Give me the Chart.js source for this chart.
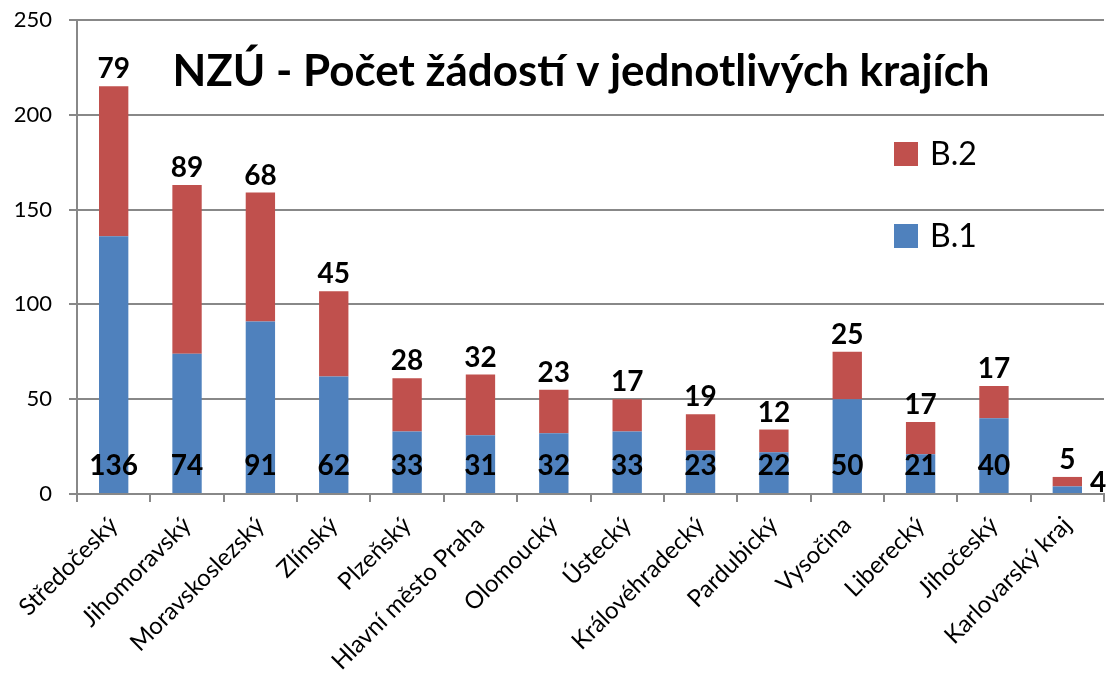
<!DOCTYPE html>
<html>
<head>
<meta charset="utf-8">
<script src="https://cdn.jsdelivr.net/npm/chart.js@4.4.1/dist/chart.umd.min.js"></script>
<style>
  html, body { margin: 0; padding: 0; background: #fff; }
  #wrap { width: 1106px; height: 680px; }
</style>
</head>
<body>
<div id="wrap"><canvas id="chart-kraje" width="1106" height="680"></canvas></div>
<script>
/* Kraje a počty žádostí */
const kraje = ["Středočeský", "Jihomoravský", "Moravskoslezský", "Zlínský", "Plzeňský", "Hlavní město Praha",
    "Olomoucký", "Ústecký", "Královéhradecký", "Pardubický", "Vysočina", "Liberecký", "Jihočeský", "Karlovarský kraj"];
const hodnotyB1 = [136, 74, 91, 62, 33, 31, 32, 33, 23, 22, 50, 21, 40, 4];
const hodnotyB2 = [79, 89, 68, 45, 28, 32, 23, 17, 19, 12, 25, 17, 17, 5];
const osaY = [0, 50, 100, 150, 200, 250];
const nadpis = "NZÚ - Počet žádostí v jednotlivých krajích";

const barvaB1 = "#4F81BD";
const barvaB2 = "#C0504D";
const seda = "#888888";
const font = "Lato";

/* popisky hodnot, nadpis a legenda kreslené přímo do grafu */
const popiskyPlugin = {
    id: "popisky",
    afterDatasetsDraw(chart) {
        const ctx = chart.ctx;
        const base = chart.scales.y.getPixelForValue(0);
        ctx.save();
        ctx.fillStyle = "#000";
        ctx.font = "bold 28px " + font;
        ctx.textAlign = "center";
        ctx.textBaseline = "alphabetic";

        const meta1 = chart.getDatasetMeta(0);
        const meta2 = chart.getDatasetMeta(1);
        meta1.data.forEach((bar, i) => {
            const h = Math.abs(bar.base - bar.y);
            if (h < 20) {
                // malý sloupec - popisek vpravo vedle sloupce
                ctx.textAlign = "left";
                ctx.fillText(hodnotyB1[i], bar.x + bar.width / 2 + 8, base - 2);
                ctx.textAlign = "center";
            } else {
                ctx.fillText(hodnotyB1[i], bar.x, base - 19);
            }
        });
        meta2.data.forEach((bar, i) => {
            ctx.fillText(hodnotyB2[i], bar.x, bar.y - 8);
        });

        // nadpis
        let size = 40;
        ctx.font = "bold " + size + "px " + font;
        const w = ctx.measureText(nadpis).width;
        size = size * 818 / w;
        ctx.font = "bold " + size.toFixed(1) + "px " + font;
        ctx.fillText(nadpis, 581, 86);

        // legenda
        ctx.textAlign = "left";
        ctx.font = "32px " + font;
        ctx.fillStyle = barvaB2;
        ctx.fillRect(894, 142, 24, 24);
        ctx.fillStyle = barvaB1;
        ctx.fillRect(894, 224, 24, 24);
        ctx.fillStyle = "#000";
        ctx.fillText("B.2", 930, 165);
        ctx.fillText("B.1", 930, 247);
        ctx.restore();
    }
};

const dataKraje = {
    labels: kraje,
    datasets: [
        {
            label: "B.1",
            backgroundColor: barvaB1,
            data: hodnotyB1,
        },
        {
            label: "B.2",
            backgroundColor: barvaB2,
            data: hodnotyB2,
        },
    ],
};

document.fonts.load("bold 28px " + font).then(() => document.fonts.load("24px " + font)).finally(() => {
    const ctxKraje = document.getElementById("chart-kraje").getContext("2d");
    const barChartKraje = new Chart(ctxKraje, {
        type: "bar",
        data: dataKraje,
        plugins: [popiskyPlugin],
        options: {
            responsive: false,
            animation: false,
            categoryPercentage: 1,
            barPercentage: 0.4,
            layout: { padding: { top: 20, right: 2, left: 0, bottom: 0 } },
            plugins: {
                legend: { display: false },
                tooltip: { enabled: false },
            },
            scales: {
                x: {
                    stacked: true,
                    grid: { drawOnChartArea: false, drawTicks: true, tickLength: 8, color: seda, lineWidth: 2, offset: true },
                    border: { color: seda, width: 2 },
                    ticks: {
                        minRotation: 45,
                        maxRotation: 45,
                        padding: 9,
                        color: "#000",
                        font: { family: font, size: 24 },
                    },
                    afterFit(scale) { scale.height = 186; },
                },
                y: {
                    stacked: true,
                    min: 0,
                    max: 250,
                    afterBuildTicks(scale) { scale.ticks = osaY.map(v => ({ value: v })); },
                    grid: { color: seda, tickLength: 8, lineWidth: 2 },
                    border: { color: seda, width: 2 },
                    ticks: {
                        padding: 17,
                        color: "#000",
                        font: { family: font, size: 22 },
                    },
                    afterFit(scale) {
                        scale.width = 77;
                        scale.paddingTop = 0;
                        scale.paddingBottom = 0;
                    },
                },
            },
        },
    });
});
</script>
</body>
</html>
